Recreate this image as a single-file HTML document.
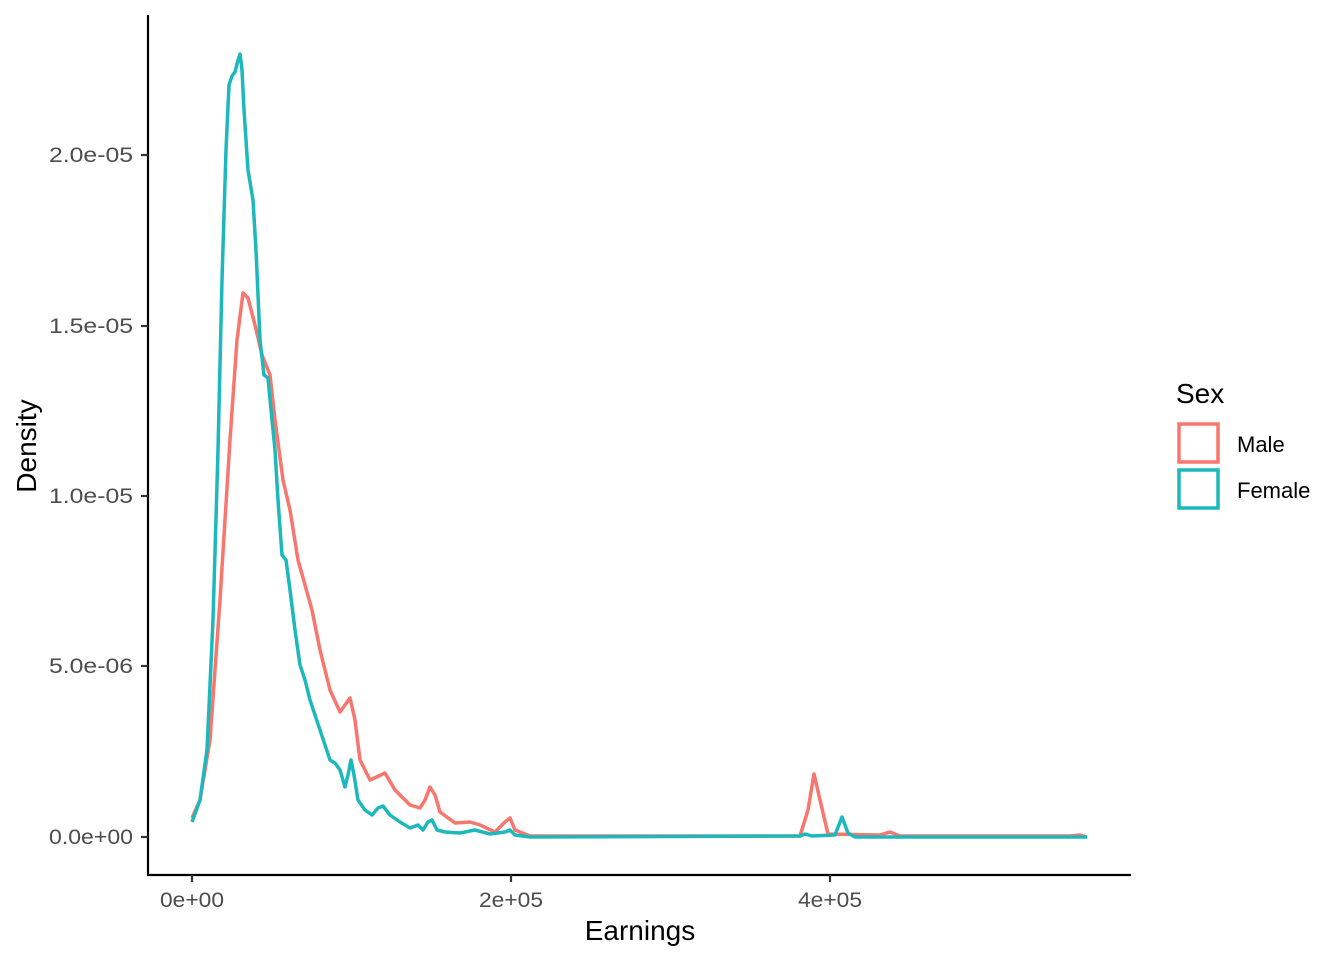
<!DOCTYPE html>
<html><head><style>body{margin:0;background:#fff}svg{display:block}</style></head><body>
<svg width="1344" height="960" xmlns="http://www.w3.org/2000/svg" font-family="Liberation Sans, sans-serif">
<rect width="1344" height="960" fill="#fff"/>
<line x1="148" y1="15" x2="148" y2="875" stroke="#000" stroke-width="2.2"/>
<line x1="147" y1="875" x2="1131" y2="875" stroke="#000" stroke-width="2.2"/>
<g stroke="#333" stroke-width="2.2">
<line x1="141" y1="837" x2="148" y2="837"/><line x1="141" y1="666" x2="148" y2="666"/><line x1="141" y1="496" x2="148" y2="496"/><line x1="141" y1="326" x2="148" y2="326"/><line x1="141" y1="155" x2="148" y2="155"/>
<line x1="192" y1="875" x2="192" y2="882"/><line x1="511" y1="875" x2="511" y2="882"/><line x1="830" y1="875" x2="830" y2="882"/>
</g>
<g fill="#4D4D4D" font-size="21" text-anchor="end">
<text x="133" y="844" textLength="84" lengthAdjust="spacingAndGlyphs">0.0e+00</text>
<text x="133" y="673" textLength="84" lengthAdjust="spacingAndGlyphs">5.0e-06</text>
<text x="133" y="503" textLength="84" lengthAdjust="spacingAndGlyphs">1.0e-05</text>
<text x="133" y="333" textLength="84" lengthAdjust="spacingAndGlyphs">1.5e-05</text>
<text x="133" y="162" textLength="84" lengthAdjust="spacingAndGlyphs">2.0e-05</text>
</g>
<g fill="#4D4D4D" font-size="21">
<text x="160" y="907" textLength="64" lengthAdjust="spacingAndGlyphs">0e+00</text>
<text x="479" y="907" textLength="64" lengthAdjust="spacingAndGlyphs">2e+05</text>
<text x="798" y="907" textLength="64" lengthAdjust="spacingAndGlyphs">4e+05</text>
</g>
<text x="640" y="940" font-size="28" text-anchor="middle">Earnings</text>
<text transform="translate(36,446) rotate(-90)" font-size="28" text-anchor="middle">Density</text>
<polyline fill="none" stroke="#F8766D" stroke-width="3.5" stroke-linejoin="round" points="192,818 200,800 210,740 220,600 230,440 237,340 243,293 248,298 255,325 262,355 270,375 275,420 283,480 290,510 298,560 305,585 312,610 320,650 330,690 340,712 345,705 350,698 355,720 360,760 370,780 385,773 395,790 410,805 420,808 425,800 430,787 435,795 440,812 455,823 470,822 480,825 495,832 505,822 510,818 515,830 530,836 800,836 808,810 814,774 820,800 828,834 880,835 890,832 900,836 1070,836 1080,835 1087,837"/>
<polyline fill="none" stroke="#1DB8BC" stroke-width="3.5" stroke-linejoin="round" points="192,822 200,800 207,750 213,620 218,450 222,280 226,150 229,85 232,76 235,72 238,60 240,54 242,70 244,110 248,170 253,200 256,250 260,340 264,375 268,378 272,420 275,450 278,500 282,555 286,560 290,590 295,630 300,665 305,680 310,700 315,715 320,730 325,745 330,760 335,763 340,770 345,787 348,775 351,760 354,775 358,800 365,810 372,815 378,808 383,806 390,815 400,822 410,828 418,825 423,830 428,822 432,820 437,830 445,832 460,833 475,830 490,834 505,832 510,830 515,835 530,837 800,836 805,834 812,836 835,835 842,817 848,833 855,837 1087,837"/>
<text x="1176" y="403" font-size="28">Sex</text>
<rect x="1179" y="424" width="39" height="38" fill="none" stroke="#F8766D" stroke-width="3.5"/>
<rect x="1179" y="470" width="39" height="38" fill="none" stroke="#1DB8BC" stroke-width="3.5"/>
<text x="1237" y="452" font-size="22">Male</text>
<text x="1237" y="498" font-size="22">Female</text>
</svg>
</body></html>
